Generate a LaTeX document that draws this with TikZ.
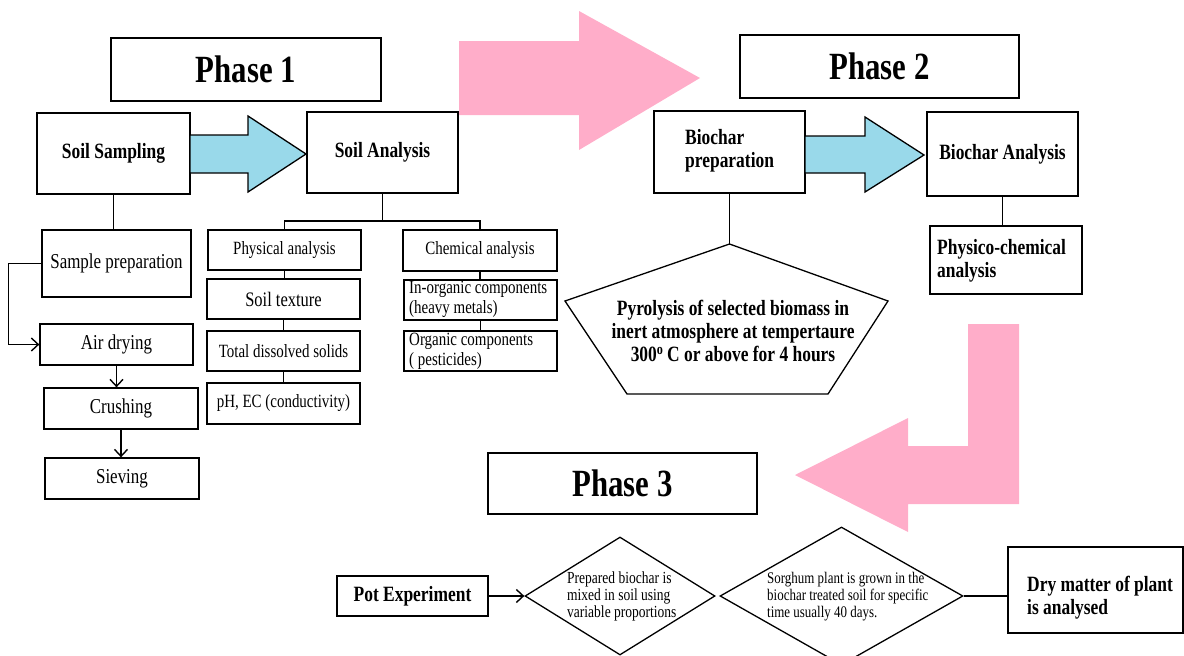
\documentclass[tikz,border=0pt]{standalone}
\usepackage{fontspec}
\setmainfont[FakeStretch=0.8]{Liberation Serif}
\usetikzlibrary{arrows.meta,shapes.geometric}
\definecolor{pinkarrow}{RGB}{255,173,201}
\definecolor{bluearrow}{RGB}{153,217,234}
\tikzset{
 sz/.style 2 args={minimum width=#1pt,minimum height=#2pt},
 box/.style={draw, line width=1.3pt, inner sep=0pt, align=center},
 phasebox/.style={box, line width=1.4pt, font=\fontsize{38.5}{44}\selectfont\bfseries},
 bigb/.style={font=\fontsize{21.8}{23}\selectfont\bfseries},
 labA/.style={font=\fontsize{21.2}{24}\selectfont},
 labB/.style={font=\fontsize{18.7}{20}\selectfont},
 smallA/.style={font=\fontsize{16.9}{17}\selectfont},
 smallB/.style={font=\fontsize{16.2}{17}\selectfont},
 txt/.style={inner sep=0pt, anchor=west, align=left},
 conn/.style={line width=1.4pt},
 tip/.style={-{Straight Barb[length=7pt,width=13pt]}},
 pinkshape/.style={fill=pinkarrow, draw=none},
 blueshape/.style={fill=bluearrow, draw=black, line width=1.3pt, line join=miter},
 dia/.style={draw, diamond, line width=1.3pt, inner sep=0pt},
}
\begin{document}
\begin{tikzpicture}[x=1pt,y=-1pt]
\useasboundingbox (0,0) rectangle (1184,656);
% big pink arrows
\fill[pinkshape] (459,41) -- (579,41) -- (579,11) -- (700,78) -- (579,150) -- (579,115) -- (459,115) -- cycle;
\fill[pinkshape] (968,324) -- (1019,324) -- (1019,504) -- (908,504) -- (908,532) -- (795,475) -- (908,418) -- (908,446) -- (968,446) -- cycle;
% phase boxes
\node[phasebox, sz={270}{63}] (p1) at (246,69.5) {Phase 1};
\node[phasebox, sz={279}{63}] (p2) at (879.5,66.5) {Phase 2};
\node[phasebox, sz={269}{61}] (p3) at (622.5,483.5) {Phase 3};
% phase 1
\node[box, bigb, sz={153}{81}] (ss) at (113.5,153.5) {Soil Sampling};
\node[box, bigb, sz={151}{81}] (sa) at (382.5,152.5) {Soil Analysis};
\draw[blueshape] (190,135) -- (248,135) -- (248,116) -- (306,154) -- (248,192) -- (248,173) -- (190,173) -- cycle;
\node[box, labA, sz={149}{67}] (sp) at (116.5,263.5) {Sample preparation};
\node[box, labA, sz={153}{41}] (ad) at (116.5,344.5) {Air drying};
\node[box, labA, sz={154}{41}] (cr) at (121,408.5) {Crushing};
\node[box, labA, sz={154}{41}] (sv) at (122,478.5) {Sieving};
\node[box, labB, sz={153}{40}] (pa) at (284.5,250) {Physical analysis};
\node[box, font=\fontsize{20.6}{22}\selectfont, sz={153}{40}] (st) at (283.5,299) {Soil texture};
\node[box, labB, sz={153}{40}] (tds) at (283.5,351) {Total dissolved solids};
\node[box, labB, sz={153}{41}] (ph) at (283.5,403.5) {pH, EC (conductivity)};
\node[box, labB, sz={154}{41}] (ca) at (480,250.5) {Chemical analysis};
\node[box, sz={153}{40}] (io) at (480.5,300) {};
\node[txt, labB] (iot) at (409,299.5) {In-organic components\\(heavy metals)};
\node[box, sz={153}{40}] (oc) at (480.5,351) {};
\node[txt, labB] (oct) at (409,351) {Organic components\\( pesticides)};
\draw[conn] (ss.south) -- (ss.south |- sp.north);
\draw[conn,tip] (sp.west) -- ++(-33,0) |- (ad.west);
\draw[conn,tip] (ad.south) -- (ad.south |- cr.north);
\draw[conn,tip] (cr.south) -- (cr.south |- sv.north);
\coordinate (sajoin) at (382.5,221);
\draw[conn] (sa.south) -- (sajoin);
\draw[conn] (pa.north) |- (sajoin) -| (ca.north);
\draw[conn] (pa.south) -- (pa.south |- st.north);
\draw[conn] (st.south) -- (st.south |- tds.north);
\draw[conn] (tds.south) -- (tds.south |- ph.north);
\draw[conn] (ca.south) -- (ca.south |- io.north);
\draw[conn] (io.south) -- (io.south |- oc.north);
% phase 2
\node[box, sz={151}{82}] (bp) at (729.5,152) {};
\node[txt, bigb] (bpt) at (685,151) {Biochar\\preparation};
\node[box, bigb, sz={151}{84}] (ba) at (1002.5,154) {Biochar Analysis};
\draw[blueshape] (805,136) -- (865,136) -- (865,117) -- (924,155) -- (865,192) -- (865,173) -- (805,173) -- cycle;
\node[box, sz={152}{68}] (pc) at (1006,260) {};
\node[txt, bigb] (pct) at (937,261) {Physico-chemical\\analysis};
\draw[conn] (ba.south) -- (ba.south |- pc.north);
\coordinate (pgtop) at (729.5,244);
\draw[line width=1.3pt, line join=miter] (pgtop) -- (888,301) -- (828,394) -- (627,394) -- (565,301) -- cycle;
\node[bigb, align=center, inner sep=0pt] (pgt) at (733,331) {Pyrolysis of selected biomass in\\inert atmosphere at tempertaure\\300\textsuperscript{o}\,C or above for 4 hours};
\draw[conn] (bp.south) -- (pgtop);
% phase 3
\node[box, bigb, sz={151}{40}] (pot) at (412.5,596) {Pot Experiment};
\node[dia, sz={190}{118}] (d1) at (620,596) {};
\node[txt, smallA] (d1t) at (567,596) {Prepared biochar is\\mixed in soil using\\variable proportions};
\node[dia, sz={243}{138}] (d2) at (841.5,596) {};
\node[txt, smallB] (d2t) at (767,597) {Sorghum plant is grown in the\\biochar treated soil for specific\\time usually 40 days.};
\node[box, sz={175}{86}] (dm) at (1095.5,590) {};
\node[txt, bigb] (dmt) at (1027,598) {Dry matter of plant\\is analysed};
\draw[conn,tip] (pot.east) -- (d1.west);
\draw[conn] (d2.east) -- (d2.east -| dm.west);
\end{tikzpicture}
\end{document}
